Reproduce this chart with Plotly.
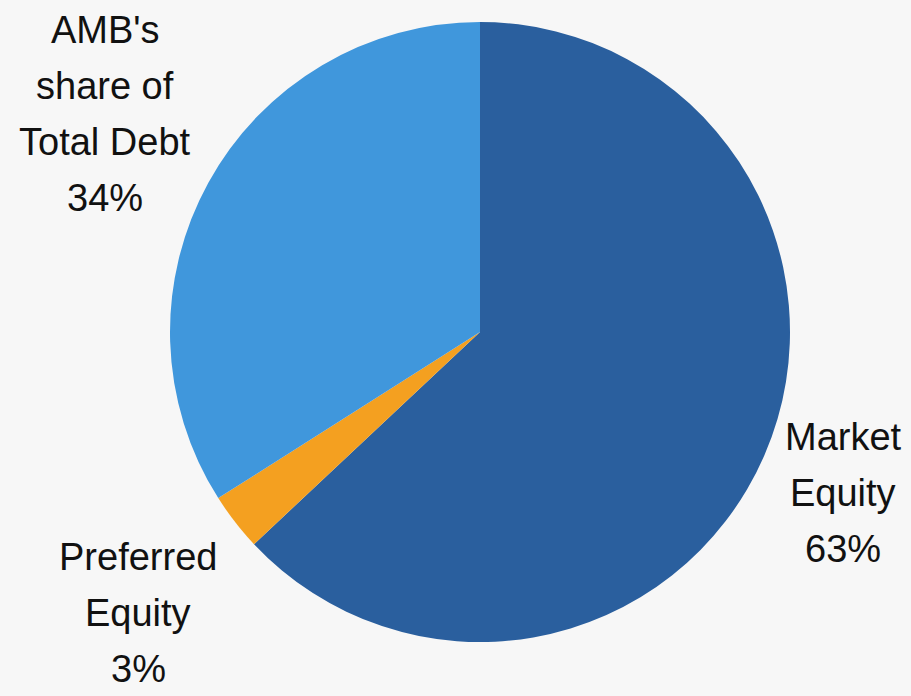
import plotly.graph_objects as go

# Capital structure breakdown
labels = ["Market Equity", "Preferred Equity", "AMB's share of Total Debt"]
values = [63, 3, 34]
colors = ["#2a5f9e", "#f4a020", "#4097dc"]

# Wrapped label lines drawn beside each slice
label_lines = [["Market", "Equity"], ["Preferred", "Equity"], ["AMB's", "share of", "Total Debt"]]
label_anchor = [(843, 437), (138, 557), (105, 30)]  # pixel centre of first line
line_step = 56

W, H = 911, 696
cx, cy, r = 480, 332, 310

fig = go.Figure(go.Pie(
    labels=labels,
    values=values,
    sort=False,
    direction="clockwise",
    rotation=0,
    textinfo="none",
    hoverinfo="label+percent",
    marker=dict(colors=colors, line=dict(width=0)),
    domain=dict(x=[(cx - r) / W, (cx + r) / W],
                y=[(H - cy - r) / H, (H - cy + r) / H]),
    showlegend=False,
))

annotations = []
for lines, val, (ax, ay) in zip(label_lines, values, label_anchor):
    for i, txt in enumerate(lines + [f"{val}%"]):
        annotations.append(dict(
            x=ax / W, y=1 - (ay + i * line_step) / H,
            xref="paper", yref="paper",
            text=txt, showarrow=False,
            xanchor="center", yanchor="middle",
            font=dict(family="Liberation Sans, Arial, sans-serif", size=38, color="#111111"),
        ))

fig.update_layout(
    width=W, height=H,
    margin=dict(l=0, r=0, t=0, b=0),
    paper_bgcolor="#f7f7f7",
    plot_bgcolor="#f7f7f7",
    annotations=annotations,
)

fig.write_html("out.html")
